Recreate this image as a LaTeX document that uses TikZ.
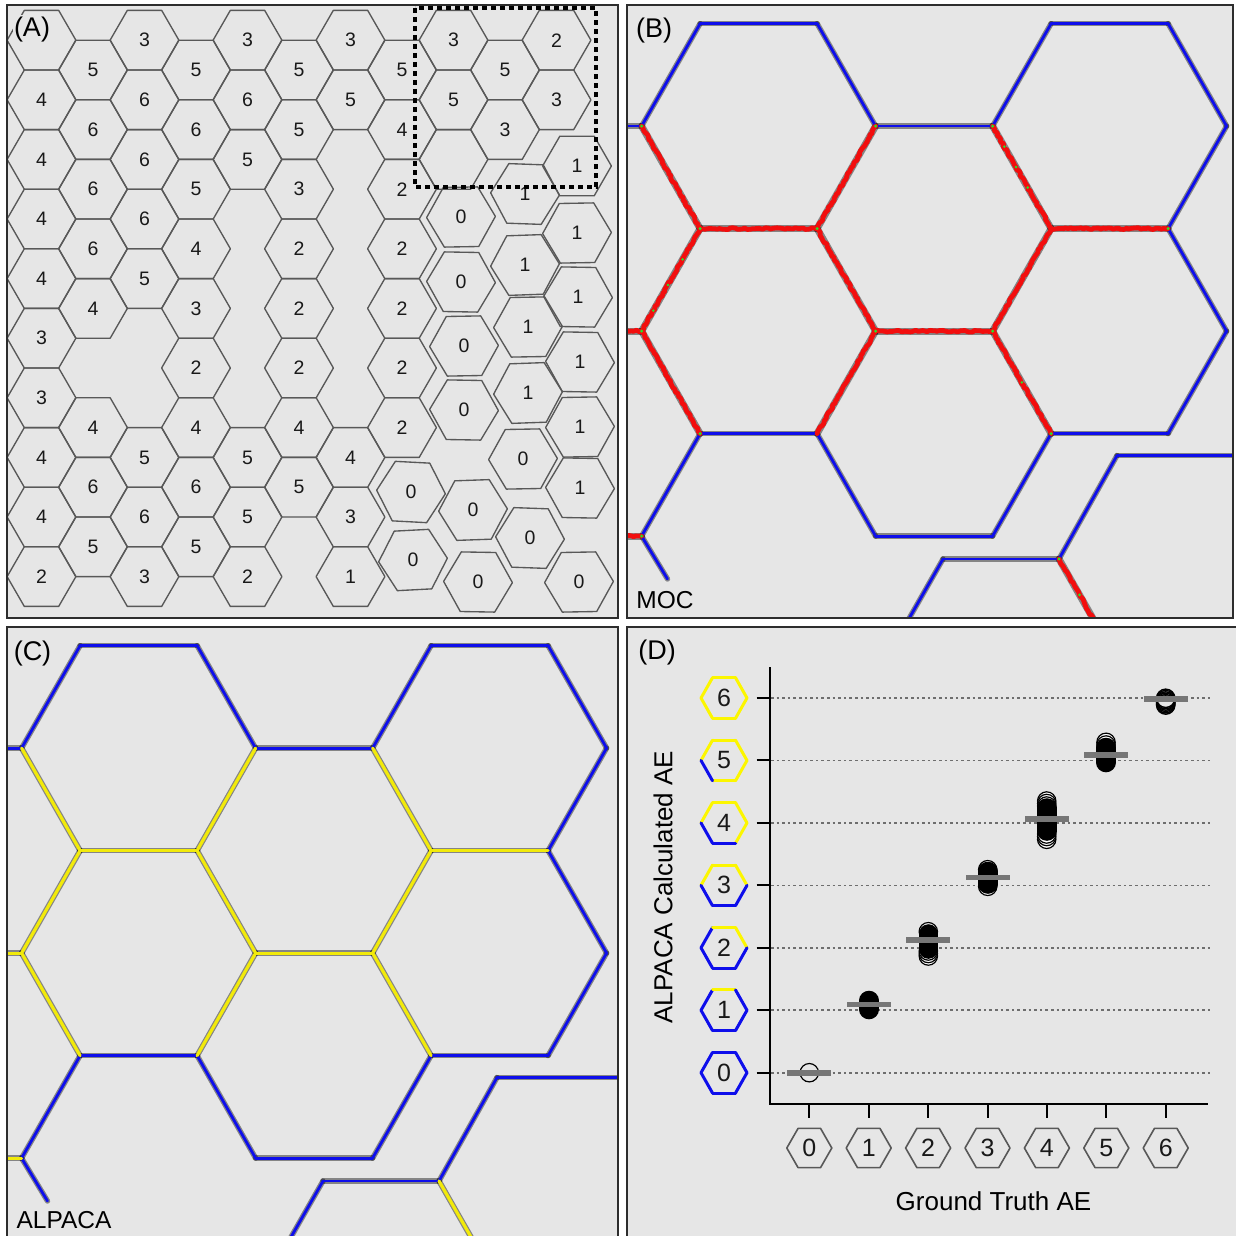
\documentclass[tikz,border=0pt]{standalone}
\usepackage{fontspec}
\setmainfont{Liberation Sans}
\usetikzlibrary{calc,decorations.pathmorphing}
\definecolor{pbg}{RGB}{230,230,230}
\definecolor{pborder}{RGB}{45,45,45}
\definecolor{hexgray}{RGB}{88,88,88}
\definecolor{netblue}{RGB}{14,14,235}
\definecolor{netred}{RGB}{242,14,14}
\definecolor{netyellow}{RGB}{242,234,10}
\definecolor{hexyellow}{RGB}{252,246,0}
\definecolor{netgreen}{RGB}{40,225,40}
\definecolor{gridgray}{RGB}{110,110,110}
\definecolor{bargray}{RGB}{118,118,118}
\definecolor{txt}{RGB}{25,25,25}
\tikzset{
  panel/.style={draw=pborder, line width=2pt},
  hexline/.style={draw=hexgray, line width=1.35pt, line join=round},
  numA/.style={font=\fontsize{19.5}{20}\selectfont, text=txt, inner sep=0pt},
  numD/.style={font=\fontsize{25}{26}\selectfont, text=txt, inner sep=0pt},
  plabel/.style={font=\fontsize{27}{28}\selectfont, text=black, inner sep=1.5pt},
  tlabel/.style={font=\fontsize{24.5}{25}\selectfont, text=black, inner sep=0pt},
  axlabel/.style={font=\fontsize{26}{27}\selectfont, text=black, inner sep=0pt},
  hexa/.pic={\draw[hexline] (34.4,0) -- (17.2,29.8) -- (-17.2,29.8) -- (-34.4,0) -- (-17.2,-29.8) -- (17.2,-29.8) -- cycle;},
  halo/.style={draw=black, opacity=0.42, line cap=round},
  blueE/.style={draw=netblue, line width=2.8pt, line cap=round},
  redE/.style={draw=netred, line width=4.8pt, line cap=round, line join=round, decorate,
     decoration={random steps, segment length=2.5pt, amplitude=0.9pt}},
  yellowE/.style={draw=netyellow, line width=3.2pt, line cap=round},
  yhex/.style={line width=3pt, line cap=round},
  xhex/.style={draw=hexgray, line width=1.6pt, line join=round},
  grid/.style={draw=gridgray, line width=1.6pt, dash pattern=on 2.6pt off 3pt},
  tick/.style={draw=black, line width=2pt},
  ring/.style={draw=black, line width=1.2pt, fill=white},
  oring/.style={draw=black, line width=1.4pt},
  caps/.style={draw=black, line width=19.6pt, line cap=round},
}
\def\outerlist{s1/n01,n01/n10,n10/n20,n20/n31,n31/n41,n41/n50,n50/n60,n60/n71,n71/n62,n62/n73,n73/n64,n64/n54,n54/n45,n45/n35,n35/n24,n24/n14,n14/n05,n05/pe,lr1/lr2,lr2/lr3,lr3/lr4,lr1/lr5}
\def\innerlist{n01/n12,n12/n22,n22/n31,n41/n52,n52/n62,n52/n43,n43/n33,n33/n22,n12/n03,n03/s3,n03/n14,n24/n33,n43/n54,n05/s5,lr2/lr6}
\newcommand\drawnet[2]{%
  \foreach \i/\xx in {0/14.6,1/73.1,2/190.1,3/248.6,4/365.6,5/424.1,6/541.1,7/599.6}{%
    \foreach \j/\yy in {0/18.6,1/121.1,2/223.6,3/326.1,4/428.6,5/531.1}{%
      \coordinate (n\i\j) at (\xx,\yy);}}
  \coordinate (s1) at (-3,121.1);
  \coordinate (s3) at (-3,326.1);
  \coordinate (s5) at (-3,531.1);
  \coordinate (pe) at (40.5,574);
  \coordinate (lr1) at (316,554);
  \coordinate (lr2) at (432,554);
  \coordinate (lr3) at (490,450.5);
  \coordinate (lr4) at (615,450.5);
  \coordinate (lr5) at (257.5,656.5);
  \coordinate (lr6) at (490.5,656.5);
  \foreach \a/\b in \outerlist {\draw[halo, line width=5.4pt] (\a) -- (\b);}
  \foreach \a/\b in \innerlist {\draw[halo, line width=#2] (\a) -- (\b);}
  \foreach \a/\b in \outerlist {\draw[blueE] (\a) -- (\b);}
  \foreach \a/\b in \innerlist {\draw[#1] (\a) -- (\b);}
}
\begin{document}
\pgfmathsetseed{7}
\begin{tikzpicture}[x=1pt,y=-1pt]
\useasboundingbox (0,0) rectangle (1235,1236);
\fill[white] (0,0) rectangle (1235,1236);
\fill[pbg] (7,5) rectangle (617.5,617.5);
\fill[pbg] (627,5) rectangle (1233,617.5);
\fill[pbg] (7,627) rectangle (617.5,1240);
\fill[pbg] (627,627) rectangle (1240,1240);

% ---------------- Panel A ----------------
\begin{scope}
\clip (7,5) rectangle (617.5,617.5);
\foreach \c/\r/\l in {0/0/{},0/1/4,0/2/4,0/3/4,0/4/4,0/5/3,0/6/3,0/7/4,0/8/4,0/9/2,
  1/0/5,1/1/6,1/2/6,1/3/6,1/4/4,1/6/4,1/7/6,1/8/5,
  2/0/3,2/1/6,2/2/6,2/3/6,2/4/5,2/7/5,2/8/6,2/9/3,
  3/0/5,3/1/6,3/2/5,3/3/4,3/4/3,3/5/2,3/6/4,3/7/6,3/8/5,
  4/0/3,4/1/6,4/2/5,4/7/5,4/8/5,4/9/2,
  5/0/5,5/1/5,5/2/3,5/3/2,5/4/2,5/5/2,5/6/4,5/7/5,
  6/0/3,6/1/5,6/7/4,6/8/3,6/9/1,
  7/0/5,7/1/4,7/2/2,7/3/2,7/4/2,7/5/2,7/6/2,
  8/0/3,8/1/5,8/2/{},
  9/0/5,9/1/3,
  10/0/2,10/1/3}{
  \pgfmathsetmacro\cx{41.5+51.5*\c}
  \pgfmathsetmacro\cy{40.2+59.6*\r+29.8*mod(\c,2)}
  \pic at (\cx,\cy) {hexa};
  \node[numA] (A-\c-\r) at (\cx,\cy) {\l};
}
\foreach \x/\y/\l/\rot [count=\k] in {461/217/0/1,461/282/0/-1,464/346/0/1,464/410/0/-1,
  523/459/0/1,411/492/0/-3,473/510/0/2,530/538/0/-2,413/560/0/3,478/582/0/-1,579/582/0/1,
  577/166/1/0,525/194/1/-2,577/233/1/1,525/265/1/2,578/297/1/-1,528/327/1/1,
  580/362/1/-1,528/393/1/2,580/427/1/1,580/488/1/-1}{
  \pic[rotate=\rot] at (\x,\y) {hexa};
  \node[numA] (I-\k) at (\x,\y) {\l};
}
\draw[line width=3.6pt, dash pattern=on 5pt off 4pt, black] (415,8) rectangle (596,187);
\end{scope}
\node[plabel, fill=pbg] (labA) at (32,29.5) {(A)};

% ---------------- Panel B ----------------
\begin{scope}[shift={(627,5)}]
\clip (0,0) rectangle (606,612.5);
\drawnet{redE}{7pt}
\foreach \p in {n01,n31,n41,n12,n22,n43,n14,n54,n05,n62,lr2,n33,n03}{
  \fill[netgreen] (\p) circle[radius=1.7pt];}
\foreach \a/\b/\t in {n12/n03/0.3,n12/n03/0.55,n12/n03/0.8,n41/n52/0.2,n41/n52/0.4,n41/n52/0.6,n43/n54/0.5,lr2/lr6/0.35}{
  \fill[netgreen] ($(\a)!\t!(\b)$) circle[radius=1.4pt];}
\end{scope}
\node[plabel] (labB) at (654,31) {(B)};
\node[tlabel] (moc) at (665,600) {MOC};

% ---------------- Panel C ----------------
\begin{scope}[shift={(7,627)}]
\clip (0,0) rectangle (610.5,615);
\drawnet{yellowE}{5.6pt}
\end{scope}
\node[plabel] (labC) at (32.5,654) {(C)};
\node[tlabel] (alp) at (64,1220) {ALPACA};

% ---------------- Panel D ----------------
\node[plabel] (labD) at (657,653) {(D)};
\foreach \v in {0,...,6}{
  \pgfmathsetmacro\gy{1072.7-62.45*\v}
  \coordinate (gl\v) at (771,\gy);
  \coordinate (gr\v) at (1210,\gy);
  \coordinate (tk\v) at (756.5,\gy);
  \draw[grid] (gl\v) -- (gr\v);
}
% data
\coordinate (g0) at (809.3,1072.7);
\draw[draw=black, line width=1.2pt] (g0) circle[radius=9.2pt];
\draw[caps] (869,1000.5) -- (869,1009.5);
\foreach \y in {956,953.5,951}{\draw[ring] (928.3,\y) circle[radius=9.2pt];}
\draw[ring] (928.3,931.7) circle[radius=9.2pt];
\draw[caps] (928.3,934) -- (928.3,949);
\draw[ring] (987.7,886.3) circle[radius=9.2pt];
\draw[ring] (987.7,869.7) circle[radius=9.2pt];
\draw[caps] (987.7,871.5) -- (987.7,884);
\foreach \y in {801,803.5,806,839.3,836.5,834}{\draw[ring] (1046.7,\y) circle[radius=9.2pt];}
\draw[caps] (1046.7,808) -- (1046.7,831);
\foreach \y in {742.3,745}{\draw[ring] (1106,\y) circle[radius=9.2pt];}
\draw[caps] (1106,747.5) -- (1106,762.5);
\foreach \y in {698.3,699.6,701,702.3,703.7,705}{\draw[oring] (1165.7,\y) circle[radius=9.2pt];}
\foreach \x/\y [count=\k] in {809.3/1072.7,869/1004.3,928.3/940,987.7/877.3,1046.7/819,1106/754.7,1165.7/699}{
  \fill[bargray] (\x-22,\y-2.8) rectangle (\x+22,\y+2.8);
}
% axes
\coordinate (ytop) at (770,667);
\coordinate (orig) at (770,1104);
\coordinate (xend) at (1208,1104);
\draw[line width=2pt] (ytop) -- (orig) -- (xend);
\foreach \v in {0,...,6}{
  \draw[tick] (tk\v) -- (770,1072.7-62.45*\v);
}
\foreach \v in {0,...,6}{
  \pgfmathsetmacro\gx{809.3+59.4*\v}
  \coordinate (xt\v) at (\gx,1104);
  \draw[tick] (xt\v) -- (\gx,1118);
  \coordinate (xh\v) at (\gx,1148);
  \draw[xhex] ($(xh\v)+(22.5,0)$) -- ($(xh\v)+(11.25,19.6)$) -- ($(xh\v)+(-11.25,19.6)$) -- ($(xh\v)+(-22.5,0)$) -- ($(xh\v)+(-11.25,-19.6)$) -- ($(xh\v)+(11.25,-19.6)$) -- cycle;
  \node[numD] (xn\v) at (xh\v) {\v};
}
\foreach \v/\ct/\cur/\clr/\cb/\cll/\cul in {
  0/netblue/netblue/netblue/netblue/netblue/netblue,
  1/hexyellow/netblue/netblue/netblue/netblue/netblue,
  2/hexyellow/hexyellow/netblue/netblue/netblue/netblue,
  3/hexyellow/hexyellow/netblue/netblue/netblue/hexyellow,
  4/hexyellow/hexyellow/hexyellow/netblue/netblue/hexyellow,
  5/hexyellow/hexyellow/hexyellow/hexyellow/netblue/hexyellow,
  6/hexyellow/hexyellow/hexyellow/hexyellow/hexyellow/hexyellow}{
  \pgfmathsetmacro\gy{1072.7-62.45*\v}
  \coordinate (yh\v) at (724,\gy);
  \draw[yhex, draw=\cul] ($(yh\v)+(-23,0)$) -- ($(yh\v)+(-11.5,-20.3)$);
  \draw[yhex, draw=\ct] ($(yh\v)+(-11.5,-20.3)$) -- ($(yh\v)+(11.5,-20.3)$);
  \draw[yhex, draw=\cur] ($(yh\v)+(11.5,-20.3)$) -- ($(yh\v)+(23,0)$);
  \draw[yhex, draw=\clr] ($(yh\v)+(23,0)$) -- ($(yh\v)+(11.5,20.3)$);
  \draw[yhex, draw=\cb] ($(yh\v)+(11.5,20.3)$) -- ($(yh\v)+(-11.5,20.3)$);
  \draw[yhex, draw=\cll] ($(yh\v)+(-11.5,20.3)$) -- ($(yh\v)+(-23,0)$);
  \node[numD] (yn\v) at (yh\v) {\v};
}
\node[axlabel, rotate=90] (ylab) at (663,887) {ALPACA Calculated AE};
\node[axlabel] (xlab) at (993.5,1201) {Ground Truth AE};

% ---------------- borders ----------------
\draw[panel] (7,5) rectangle (617.5,617.5);
\draw[panel] (627,5) rectangle (1233,617.5);
\draw[panel] (7,627) rectangle (617.5,1240);
\draw[panel] (627,627) rectangle (1240,1240);
\end{tikzpicture}
\end{document}
